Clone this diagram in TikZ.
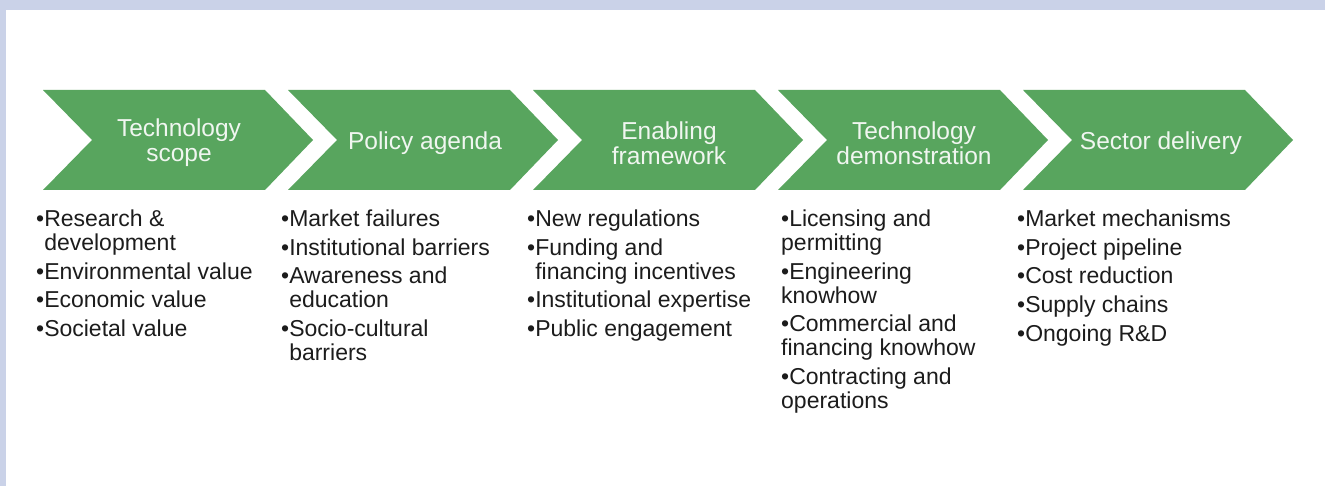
\documentclass[tikz,border=0pt]{standalone}
\usepackage{fontspec}
\setmainfont{Liberation Sans}
\definecolor{chev}{RGB}{88,165,94}
\definecolor{bgblue}{RGB}{202,210,232}
\definecolor{txt}{RGB}{28,28,28}
\definecolor{ttl}{RGB}{240,246,240}
\newcommand\hangb{\phantom{•}}
\tikzset{
  chevron/.style={fill=chev, draw=none},
  title/.style={text=ttl, font=\fontsize{24.5}{25}\selectfont, align=center, inner sep=0pt},
  blist/.style={anchor=north west, align=left, inner sep=0pt, text=txt, font=\fontsize{23}{24}\selectfont}
}
\begin{document}
\begin{tikzpicture}[x=1pt,y=-1pt]
\useasboundingbox (0,0) rectangle (1325,486);
\fill[bgblue] (0,0) rectangle (1325,486);
\fill[white] (6,10) rectangle (1325,486);

% chevrons
\foreach \i in {0,...,4}{
  \pgfmathsetmacro\xo{43+245*\i}
  \fill[chevron] (\xo,90) -- ++(222,0) -- ++(48,50) -- ++(-48,50) -- ++(-222,0) -- ++(49,-50) -- cycle;
}

% titles
\node[title] (t1) at (179,143) {Technology\\scope};
\node[title] (t2) at (425,143) {Policy agenda};
\node[title] (t3) at (669,143) {Enabling\\framework};
\node[title] (t4) at (914,143) {Technology\\demonstration};
\node[title] (t5) at (1161,143) {Sector delivery};

% lists
\node[blist] (l1) at (36,209) {\rule{0pt}{17pt}•Research \&\\ \hangb development\\[4.8pt]
  •Environmental value\\[4.8pt] •Economic value\\[4.8pt] •Societal value};
\node[blist] (l2) at (281,209) {\rule{0pt}{17pt}•Market failures\\[4.8pt] •Institutional barriers\\[4.8pt]
  •Awareness and\\ \hangb education\\[4.8pt] •Socio-cultural\\ \hangb barriers};
\node[blist] (l3) at (527,209) {\rule{0pt}{17pt}•New regulations\\[4.8pt] •Funding and\\ \hangb financing incentives\\[4.8pt]
  •Institutional expertise\\[4.8pt] •Public engagement};
\node[blist] (l4) at (781,209) {\rule{0pt}{17pt}•Licensing and\\ permitting\\[4.8pt] •Engineering\\ knowhow\\[4.8pt]
  •Commercial and\\ financing knowhow\\[4.8pt] •Contracting and\\ operations};
\node[blist] (l5) at (1017,209) {\rule{0pt}{17pt}•Market mechanisms\\[4.8pt] •Project pipeline\\[4.8pt]
  •Cost reduction\\[4.8pt] •Supply chains\\[4.8pt] •Ongoing R\&D};
\end{tikzpicture}
\end{document}
